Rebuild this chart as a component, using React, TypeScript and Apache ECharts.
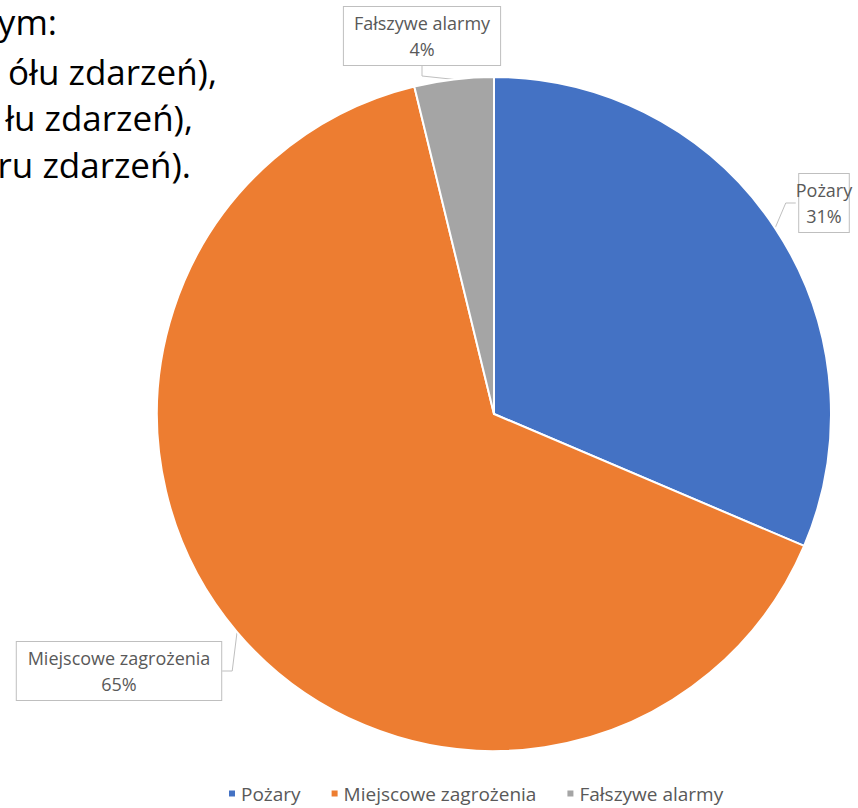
import React, { useEffect, useRef } from "react";
import * as echarts from "echarts";

const categories = ["Pożary", "Miejscowe zagrożenia", "Fałszywe alarmy"];
const values = [31.4, 64.8, 3.8];
const colors = ["#4472C4", "#ED7D31", "#A5A5A5"];
const sideTextLines = ["ym:", "ółu zdarzeń),", "łu zdarzeń),", "ru zdarzeń)."];

const FONT = "'Open Sans', 'Noto Sans', sans-serif";

export default function App() {
  const ref = useRef<HTMLDivElement>(null);
  useEffect(() => {
    if (!ref.current) return;
    const chart = echarts.init(ref.current, undefined, { renderer: "svg" });
    const labelPos = [
      { x: 824, y: 203 },
      { x: 119, y: 671 },
      { x: 422, y: 36 },
    ];
    const sideEnds = [57, 217, 193, 191];
    const sideY = [21, 71, 117, 164];
    chart.setOption({
      animation: false,
      backgroundColor: "#ffffff",
      color: colors,
      legend: {
        bottom: 0,
        left: 222,
        icon: "rect",
        itemWidth: 8,
        itemHeight: 8,
        itemGap: 29,
        textStyle: { color: "#595959", fontSize: 19, fontFamily: FONT },
        data: categories,
      },
      graphic: sideTextLines.map((t, i) => ({
        type: "text",
        x: sideEnds[i],
        y: sideY[i],
        style: {
          text: t,
          fill: "#000000",
          fontSize: 35,
          fontFamily: FONT,
          textAlign: "right",
          textVerticalAlign: "middle",
        },
      })),
      series: [
        {
          type: "pie",
          center: [494, 414],
          radius: [0, 337],
          startAngle: 90,
          clockwise: true,
          percentPrecision: 0,
          itemStyle: { borderColor: "#ffffff", borderWidth: 2 },
          label: {
            show: true,
            formatter: "{b}\n{d}%",
            color: "#595959",
            fontSize: 18,
            lineHeight: 26,
            fontFamily: FONT,
            align: "center",
            overflow: "none",
            backgroundColor: "#ffffff",
            borderColor: "#bfbfbf",
            borderWidth: 1,
            padding: [3, 10],
          },
          labelLine: {
            show: true,
            length: 10,
            length2: 10,
            lineStyle: { color: "#bfbfbf", width: 1 },
          },
          labelLayout: (params: any) => {
            const p = labelPos[params.dataIndex];
            return { x: p.x, y: p.y, align: "center", verticalAlign: "middle" };
          },
          data: categories.map((name, i) => ({ name, value: values[i] })),
        },
      ],
    });
    return () => chart.dispose();
  }, []);
  return (
    <div
      ref={ref}
      style={{ position: "absolute", left: 0, top: 0, width: 858, height: 808 }}
    />
  );
}
